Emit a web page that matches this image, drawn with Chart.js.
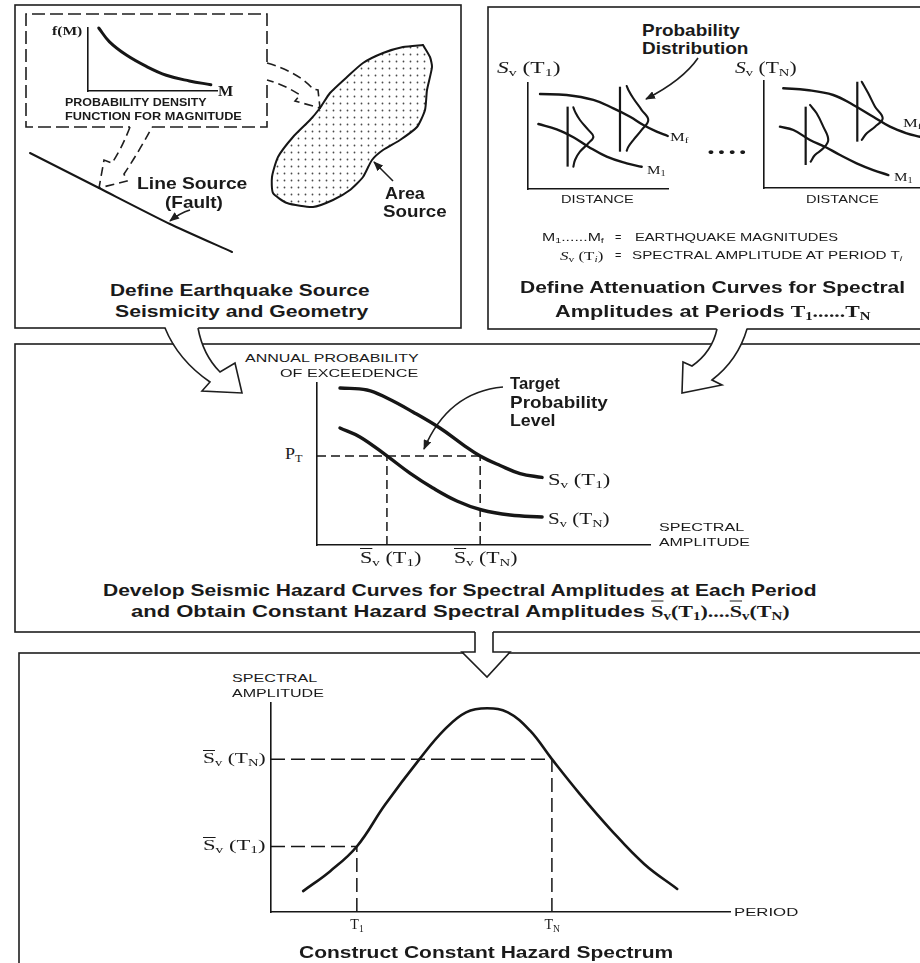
<!DOCTYPE html>
<html>
<head>
<meta charset="utf-8">
<script src="https://cdn.jsdelivr.net/npm/chart.js@4.4.1/dist/chart.umd.min.js"></script>
<style>
  html, body { margin: 0; padding: 0; background: #fff; }
  #page { position: relative; width: 920px; height: 963px; overflow: hidden; background: #fff; }
  #page canvas { position: absolute; }
  #deco { position: absolute; left: 0; top: 0; }
  .t { position: absolute; white-space: nowrap; line-height: 1; color: #1a1a1a;
       transform-origin: 0 50%; font-family: "Liberation Sans", Arial, sans-serif; }
  .bold { font-weight: bold; font-size: 17px; }
  .cap { font-size: 11px; }
  .sm { font-size: 10px; font-weight: bold; }
  .ser { font-family: "Liberation Serif", "DejaVu Serif", serif; }
  .s16 { font-size: 16px; }
  .s14 { font-size: 14px; }
  .s13 { font-size: 13px; }
  .s12 { font-size: 12px; }
  .t sub { font-size: 68%; vertical-align: -0.3em; line-height: 0; }
  .ov { text-decoration: overline; }
</style>
</head>
<body>
<div id="page">
<svg id="deco" width="920" height="963" fill="none" stroke="#1e1e1e" stroke-width="1.6">
  <defs>
    <marker id="ah" viewBox="0 0 10 8" refX="9" refY="4" markerWidth="10" markerHeight="8"
            markerUnits="userSpaceOnUse" orient="auto">
      <path d="M0,0 L10,4 L0,8 z" fill="#1e1e1e" stroke="none"/>
    </marker>
  </defs>
  <!-- panel frames -->
  <rect x="15" y="5" width="446" height="323"/>
  <rect x="488" y="7" width="460" height="322"/>
  <rect x="15" y="344" width="940" height="288"/>
  <rect x="19" y="653" width="940" height="340"/>
  <!-- dashed frame round the magnitude density inset -->
  <path d="M267,62 V14 H26 V127 H130 M152,127 H267 V82" stroke-dasharray="13 5"/>
  <!-- dashed hollow arrows from the inset to each source -->
  <path d="M267,63 Q298,72 313,89 L318,90 L320,108 L295,101 L300,95 Q285,85 267,80" stroke-dasharray="9 5"/>
  <path d="M130,127 Q122,148 112,163 L104,160 L99,188 L127,181 L124,174 Q140,150 152,127" stroke-dasharray="9 5"/>
  <!-- flow arrows between panels -->
  <path d="M165,326 Q178,360 210,382 L202,391 L242,393 L235,363 L220,372 Q203,355 198,326 Z" fill="#fff" stroke="none"/>
  <path d="M165,328 Q178,360 210,382 L202,391 L242,393 L235,363 L220,372 Q203,355 198,328"/>
  <path d="M717,327 Q712,352 692,366 L683,362 L682,393 L722,385 L712,380 Q738,360 747,327 Z" fill="#fff" stroke="none"/>
  <path d="M717,329 Q712,352 692,366 L683,362 L682,393 L722,385 L712,380 Q738,360 747,329"/>
  <path d="M475,630 V652 H462 L487,677 L510,652 H493 V630 Z" fill="#fff" stroke="none"/>
  <path d="M475,632 V652 H462 L487,677 L510,652 H493 V632"/>
  <!-- pointer arrows -->
  <path d="M698,58 Q683,80 646,99" marker-end="url(#ah)"/>
  <path d="M503,387 Q448,392 424,449" marker-end="url(#ah)"/>
  <path d="M393,181 L374,162" marker-end="url(#ah)"/>
  <path d="M190,210 Q180,213 170,221" marker-end="url(#ah)"/>
</svg>
</div>
<script>
// ---------- magnitude probability density f(M) ----------
const magnitude = [4.35, 4.7, 5.25, 5.9, 6.55, 7.3, 8.0];
const densityFM = [1.0, 0.78, 0.57, 0.39, 0.25, 0.16, 0.10];

// ---------- source geometry (km) ----------
const faultEast  = [5, 39.5, 75, 106];
const faultNorth = [56, 38.5, 20.5, 6.5];
const areaEast  = [201.5, 205, 206, 203.5, 202.5, 198.5, 190, 181.5, 176, 171.5, 165, 156.5, 146.5,
                   133.5, 126.5, 126, 129, 136.5, 145, 150, 155, 163.5, 171.5, 181.5, 191.5, 201.5];
const areaNorth = [110, 104, 99, 87.5, 77.5, 69, 62.5, 57.5, 52.5, 44, 37.5, 32.5, 29,
                   31, 36, 44, 54, 64, 72.5, 78.5, 86, 94, 101, 106, 109, 110];

// ---------- attenuation curves, period T1 ----------
const distMfT1 = [8.6, 27.6, 46.7, 61.0, 72.9, 82.4, 91.9, 99.8];
const svMfT1   = [89.6, 88.7, 84.0, 76.1, 68.2, 60.4, 54.1, 50.0];
const distM1T1 = [7.4, 20.5, 32.4, 43.1, 56.2, 70.5, 81.2];
const svM1T1   = [61.3, 56.3, 48.8, 39.9, 30.5, 24.2, 21.0];
const pdfBaseT1 = [28.3, 65.7];
const pdfSpanT1 = [[21.1, 77.7], [35.2, 96.5]];
const pdf1DistT1 = [32.4, 33.6, 37.1, 43.1, 46.7, 43.1, 37.1, 33.6, 32.4];
const pdf1SvT1   = [77.1, 73.0, 65.1, 55.7, 49.4, 43.1, 35.2, 27.4, 21.1];
const pdf2DistT1 = [70.5, 71.7, 75.2, 81.2, 85.9, 81.2, 75.2, 71.7, 70.5];
const pdf2SvT1   = [97.2, 93.4, 85.6, 74.5, 65.1, 55.7, 46.2, 39.9, 36.1];

// ---------- attenuation curves, period TN ----------
const distMfTN = [11.6, 25.7, 41.7, 53.8, 65.8, 75.9, 86.0, 94.0];
const svMfTN   = [93.2, 91.6, 86.9, 77.6, 66.6, 57.3, 51.1, 47.9];
const distM1TN = [9.6, 17.7, 27.7, 36.7, 45.8, 55.8, 65.8, 74.9];
const svM1TN   = [57.3, 54.2, 44.9, 38.6, 30.8, 23.1, 16.8, 12.1];
const pdfBaseTN = [25.1, 56.2];
const pdfSpanTN = [[21.5, 76.0], [43.3, 99.3]];
const pdf1DistTN = [27.7, 31.7, 35.7, 38.7, 35.7, 30.7, 28.1];
const pdf1SvTN   = [77.6, 69.8, 57.3, 44.9, 37.1, 30.8, 24.6];
const pdf2DistTN = [58.9, 62.8, 66.9, 71.5, 66.9, 61.9, 58.9];
const pdf2SvTN   = [99.3, 88.5, 76.0, 65.1, 57.3, 51.1, 44.9];

// ---------- seismic hazard curves ----------
const P_T = 55;      // target annual probability of exceedence
const SV_T1 = 21;    // constant-hazard spectral amplitude at T1
const SV_TN = 49;    // constant-hazard spectral amplitude at TN
const ampHazT1  = [6.9, 15.0, 21.0, 28.8, 36.9, 43.8, SV_TN, 55.0, 61.0, 67.6];
const probHazT1 = [96.9, 95.7, 90.7, 82.1, 72.2, 62.0, P_T, 49.1, 44.1, 41.7];
const ampHazTN  = [6.9, 12.9, SV_T1, 27.9, 34.8, 42.0, 49.5, 58.0, 67.6];
const probHazTN = [72.2, 66.7, P_T, 44.4, 35.2, 27.2, 21.6, 18.5, 17.3];

// ---------- constant hazard spectrum ----------
const T1 = 18.7, TN = 61.2;
const periodSpec = [7.0, 12.9, T1, 24.8, 32.4, 37.9, 42.5, 47.1, 51.6, 56.4, TN, 67.3, 73.9, 81.3, 88.5];
const ampSpec    = [6.7, 13.1, SV_T1, 34.3, 49.1, 58.6, 64.0, 65.3, 64.0, 58.2, SV_TN, 37.8, 26.6, 15.4, 7.4];

// ======================================================
const INK = '#161616';
const page = document.getElementById('page');

function curve(xs, ys, width, extra) {
  return Object.assign({
    data: xs.map((x, i) => ({ x, y: ys[i] })),
    borderColor: INK, borderWidth: width, pointRadius: 0,
    fill: false, clip: false, tension: 0.4, cubicInterpolationMode: 'default',
    borderCapStyle: 'round', borderJoinStyle: 'round'
  }, extra || {});
}
function segment(x0, y0, x1, y1, width, dash) {
  return curve([x0, x1], [y0, y1], width, { tension: 0, borderDash: dash || [], borderCapStyle: 'butt' });
}
function axis(min, max, show) {
  return {
    type: 'linear', min, max, display: show,
    grid: { display: false, drawTicks: false },
    ticks: { display: false },
    border: { display: show, color: INK, width: 1.6 }
  };
}
// box = [left, top, width, height] of the plotting area on the page
function plot(box, xr, yr, datasets, axes) {
  const P = 12;
  const c = document.createElement('canvas');
  c.width = box[2] + 2 * P;
  c.height = box[3] + 2 * P;
  c.style.left = (box[0] - P) + 'px';
  c.style.top = (box[1] - P) + 'px';
  page.appendChild(c);
  const chart = new Chart(c.getContext('2d'), {
    type: 'line',
    data: { datasets },
    options: {
      responsive: false, animation: false, events: [],
      layout: { padding: P },
      plugins: { legend: { display: false }, tooltip: { enabled: false } },
      scales: { x: axis(xr[0], xr[1], axes), y: axis(yr[0], yr[1], axes) }
    }
  });
  chart.at = (x, y) => [box[0] - P + chart.scales.x.getPixelForValue(x),
                        box[1] - P + chart.scales.y.getPixelForValue(y)];
  return chart;
}

// dotted fill for the area source
const tile = document.createElement('canvas');
tile.width = 7; tile.height = 7;
const tctx = tile.getContext('2d');
tctx.fillStyle = '#4a4a4a';
tctx.beginPath(); tctx.arc(3.5, 3.5, 0.9, 0, Math.PI * 2); tctx.fill();
const dots = tctx.createPattern(tile, 'repeat');

// source map: line source and area source
plot([20, 35, 430, 230], [0, 215], [0, 115], [
  curve(faultEast, faultNorth, 2, { tension: 0.2 }),
  curve(areaEast, areaNorth, 2, { tension: 0.2, fill: 'shape', backgroundColor: dots })
], false);

// f(M) inset
plot([88, 28, 129, 63], [4, 8.2], [0, 1], [
  curve(magnitude, densityFM, 3)
], true);

// attenuation plots
function attenuationSets(dMf, sMf, dM1, sM1, base, span, p1d, p1s, p2d, p2s) {
  return [
    curve(dMf, sMf, 2.4),
    curve(dM1, sM1, 2.4),
    segment(base[0], span[0][0], base[0], span[0][1], 2.2),
    segment(base[1], span[1][0], base[1], span[1][1], 2.2),
    curve(p1d, p1s, 2.1),
    curve(p2d, p2s, 2.1)
  ];
}
plot([528, 83, 140, 106], [0, 100], [0, 100],
  attenuationSets(distMfT1, svMfT1, distM1T1, svM1T1, pdfBaseT1, pdfSpanT1,
                  pdf1DistT1, pdf1SvT1, pdf2DistT1, pdf2SvT1), true);
plot([764, 81, 166, 107], [0, 100], [0, 100],
  attenuationSets(distMfTN, svMfTN, distM1TN, svM1TN, pdfBaseTN, pdfSpanTN,
                  pdf1DistTN, pdf1SvTN, pdf2DistTN, pdf2SvTN), true);

// hazard curves
const hazard = plot([317, 383, 333, 162], [0, 100], [0, 100], [
  curve(ampHazT1, probHazT1, 3.4),
  curve(ampHazTN, probHazTN, 3.4),
  segment(0, P_T, SV_TN, P_T, 1.5, [9, 5]),
  segment(SV_T1, 0, SV_T1, P_T, 1.5, [9, 5]),
  segment(SV_TN, 0, SV_TN, P_T, 1.5, [9, 5])
], true);

// constant hazard spectrum
const spectrum = plot([271, 703, 459, 209], [0, 100], [0, 67], [
  curve(periodSpec, ampSpec, 2.6),
  segment(0, SV_TN, TN, SV_TN, 1.5, [14, 6]),
  segment(TN, 0, TN, SV_TN, 1.5, [14, 6]),
  segment(0, SV_T1, T1, SV_T1, 1.5, [14, 6]),
  segment(T1, 0, T1, SV_T1, 1.5, [14, 6])
], true);

// ---------- text ----------
function L(html, x, y, cls, align, width) {
  const d = document.createElement('div');
  d.className = 't ' + (cls || '');
  d.innerHTML = html;
  page.appendChild(d);
  const nat = d.offsetWidth || 1;
  const w = width || nat;
  const f = align === 'c' ? 0.5 : align === 'r' ? 1 : 0;
  d.style.left = (x - w * f) + 'px';
  d.style.top = y + 'px';
  d.style.transform = 'translateY(-50%) scaleX(' + (w / nat) + ')';
  return d;
}
const SV = (sub) => '<span class="ov">S</span><sub>v</sub> (T<sub>' + sub + '</sub>)';

// source panel
L('<b>f(M)</b>', 67, 30, 'ser s13', 'c', 30);
L('<b>M</b>', 225, 92, 'ser s14', 'c', 15);
L('PROBABILITY DENSITY', 65, 103, 'sm', 'l', 142);
L('FUNCTION FOR MAGNITUDE', 65, 117, 'sm', 'l', 177);
L('Line Source', 192, 183, 'bold', 'c', 110);
L('(Fault)', 194, 202, 'bold', 'c', 58);
L('Area', 385, 193, 'bold', 'l', 40);
L('Source', 383, 211, 'bold', 'l', 64);
L('Define Earthquake Source', 240, 290, 'bold', 'c', 260);
L('Seismicity and Geometry', 241, 311, 'bold', 'c', 253);

// attenuation panel
L('Probability', 691, 30, 'bold', 'c', 98);
L('Distribution', 695, 48, 'bold', 'c', 106);
L('<i>S</i><sub>v</sub> (T<sub>1</sub>)', 497, 68, 'ser s16', 'l', 63);
L('<i>S</i><sub>v</sub> (T<sub>N</sub>)', 735, 68, 'ser s16', 'l', 62);
L('M<sub>f</sub>', 670, 137, 'ser s12', 'l', 18);
L('M<sub>1</sub>', 647, 170, 'ser s12', 'l', 19);
L('M<sub>f</sub>', 903, 123, 'ser s12', 'l', 18);
L('M<sub>1</sub>', 894, 177, 'ser s12', 'l', 19);
L('DISTANCE', 597, 199, 'cap', 'c', 73);
L('DISTANCE', 842, 199, 'cap', 'c', 73);
L('<b>• • • •</b>', 727, 152, 's12', 'c', 38);
L('M<sub>1</sub>......M<sub>f</sub>', 604, 237, 'cap', 'r', 62);
L('=', 618, 237, 'cap', 'c');
L('EARTHQUAKE MAGNITUDES', 635, 237, 'cap', 'l', 203);
L('<i>S</i><sub>v</sub> (T<sub><i>i</i></sub>)', 603, 255, 'ser s13', 'r', 43);
L('=', 618, 255, 'cap', 'c');
L('SPECTRAL AMPLITUDE AT PERIOD T<sub><i>i</i></sub>', 632, 255, 'cap', 'l', 270);
L('Define Attenuation Curves for Spectral', 712, 287, 'bold', 'c', 385);
L('Amplitudes at Periods <span class="ser">T<sub>1</sub>......T<sub>N</sub></span>', 713, 311, 'bold', 'c', 316);

// hazard panel
L('ANNUAL PROBABILITY', 418, 358, 'cap', 'r', 173);
L('OF EXCEEDENCE', 418, 373, 'cap', 'r', 138);
L('Target', 510, 383, 'bold', 'l', 50);
L('Probability', 510, 402, 'bold', 'l', 98);
L('Level', 510, 420, 'bold', 'l', 45);
let p = hazard.at(0, P_T);
L('P<sub>T</sub>', p[0] - 14, p[1] - 2, 'ser s16', 'r', 18);
p = hazard.at(ampHazT1[ampHazT1.length - 1], probHazT1[probHazT1.length - 1]);
L('S<sub>v</sub> (T<sub>1</sub>)', p[0] + 6, p[1] + 3, 'ser s16', 'l', 62);
p = hazard.at(ampHazTN[ampHazTN.length - 1], probHazTN[probHazTN.length - 1]);
L('S<sub>v</sub> (T<sub>N</sub>)', p[0] + 6, p[1] + 2, 'ser s16', 'l', 62);
p = hazard.at(SV_T1, 0);
L(SV('1'), p[0] + 4, p[1] + 13, 'ser s16', 'c', 61);
p = hazard.at(SV_TN, 0);
L(SV('N'), p[0] + 6, p[1] + 13, 'ser s16', 'c', 64);
L('SPECTRAL', 659, 527, 'cap', 'l', 85);
L('AMPLITUDE', 659, 542, 'cap', 'l', 91);
L('Develop Seismic Hazard Curves for Spectral Amplitudes at Each Period', 460, 590, 'bold', 'c', 714);
L('and Obtain Constant Hazard Spectral Amplitudes <span class="ser"><span class="ov">S</span><sub>v</sub>(T<sub>1</sub>)....<span class="ov">S</span><sub>v</sub>(T<sub>N</sub>)</span>',
  460, 611, 'bold', 'c', 659);

// spectrum panel
L('SPECTRAL', 232, 678, 'cap', 'l', 85);
L('AMPLITUDE', 232, 693, 'cap', 'l', 92);
p = spectrum.at(0, SV_TN);
L(SV('N'), p[0] - 5, p[1], 'ser s14', 'r', 63);
p = spectrum.at(0, SV_T1);
L(SV('1'), p[0] - 5, p[1], 'ser s14', 'r', 63);
p = spectrum.at(T1, 0);
L('T<sub>1</sub>', p[0], p[1] + 13, 'ser s14', 'c');
p = spectrum.at(TN, 0);
L('T<sub>N</sub>', p[0], p[1] + 13, 'ser s14', 'c');
L('PERIOD', 734, 912, 'cap', 'l', 64);
L('Construct Constant Hazard Spectrum', 486, 952, 'bold', 'c', 374);
</script>
</body>
</html>
